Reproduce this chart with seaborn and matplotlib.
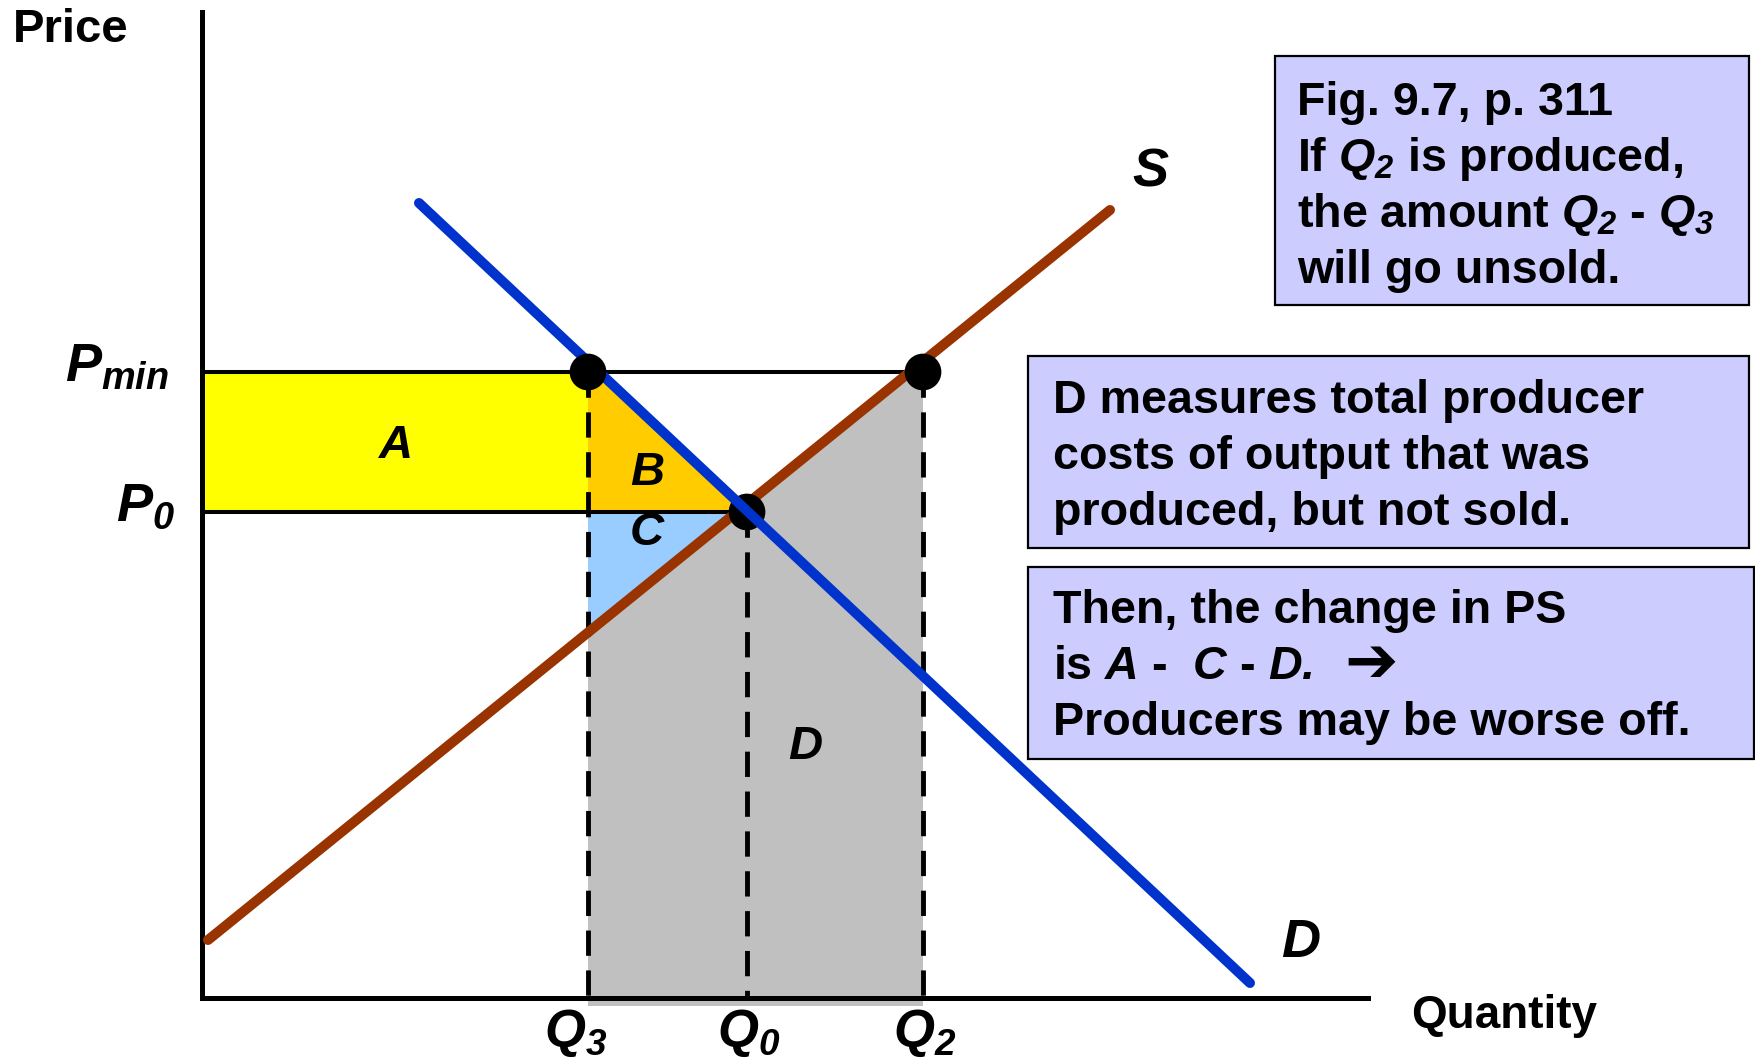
import matplotlib
matplotlib.use("Agg")
import matplotlib.pyplot as plt
from matplotlib.patches import Rectangle, Polygon
import numpy as np
import pandas as pd
import seaborn as sns

# values (origin of the price/quantity axes = 0)
QUANTITY_LABELS = ["$Q_3$", "$Q_0$", "$Q_2$"]
QUANTITIES = [3.86, 5.45, 7.21]
PRICE_LABELS = ["$P_{min}$", "$P_0$"]
PRICES = [6.26, 4.86]
SUPPLY_Q = [0.06, 9.08]
SUPPLY_P = [0.58, 7.88]
DEMAND_Q = [2.17, 10.48]
DEMAND_P = [7.95, 0.15]
AXIS_TOP = 9.86
AXIS_RIGHT = 11.66

AREA_LABELS = ["A", "B", "C", "D"]
BOX_LINES = [
    ["Fig. 9.7, p. 311", "If $Q_2$ is produced,", "the amount $Q_2$ - $Q_3$", "will go unsold."],
    ["D measures total producer", "costs of output that was", "produced, but not sold."],
    ["Then, the change in PS", "is $A$ -  $C$ - $D.$", "Producers may be worse off."],
]

W, H = 1756, 1063

sns.set_theme(style="white")
plt.rcParams["font.family"] = ["Liberation Sans", "DejaVu Sans"]
plt.rcParams["font.weight"] = "bold"
plt.rcParams["text.color"] = "black"
plt.rcParams["mathtext.fontset"] = "custom"
for k in ["rm", "it", "bf", "sf"]:
    plt.rcParams[f"mathtext.{k}"] = "Liberation Sans:style=italic:weight=bold"


def supply(q):
    return np.interp(q, SUPPLY_Q, SUPPLY_P)


def supply_inv(p):
    return np.interp(p, SUPPLY_P, SUPPLY_Q)


def demand_inv(p):
    return np.interp(p, DEMAND_P[::-1], DEMAND_Q[::-1])


def fx(px):
    return px / W


def fy(py):
    return 1 - py / H


fig = plt.figure(figsize=(W / 100, H / 100), dpi=100)
ax = fig.add_axes([0, 0, 1, 1])
ax.set_xlim(-2.02, 15.54)
ax.set_ylim(-0.65, 9.98)
ax.set_xticks([])
ax.set_yticks([])
for side in ["top", "right"]:
    ax.spines[side].set_visible(False)
ax.spines["left"].set_position(("data", 0))
ax.spines["bottom"].set_position(("data", 0))
ax.spines["left"].set_bounds(0, AXIS_TOP)
ax.spines["bottom"].set_bounds(0, AXIS_RIGHT)
for side in ["left", "bottom"]:
    ax.spines[side].set_color("black")
    ax.spines[side].set_linewidth(3.6)
    ax.spines[side].set_zorder(2.5)

q3, q0, q2 = QUANTITIES
pmin, p0 = PRICES

# shaded areas
ax.add_patch(Rectangle((0, p0), q3, pmin - p0, facecolor="#FFFF00", edgecolor="none", zorder=1))
ax.add_patch(Polygon([(q3, pmin), (demand_inv(pmin), pmin), (demand_inv(p0), p0), (q3, p0)],
                     facecolor="#FFCC00", edgecolor="none", zorder=1))
ax.add_patch(Polygon([(q3, p0), (supply_inv(p0), p0), (q3, supply(q3))],
                     facecolor="#99CCFF", edgecolor="none", zorder=1))
ax.add_patch(Polygon([(q3, supply(q3)), (q2, supply(q2)), (q2, -0.08), (q3, -0.08)],
                     facecolor="#C0C0C0", edgecolor="none", zorder=1))

# price lines and dashed quantity lines
ax.plot([0, q2], [pmin, pmin], color="black", lw=2.9, zorder=2)
ax.plot([0, q0], [p0, p0], color="black", lw=2.9, zorder=2)
for q, p in [(q3, pmin), (q0, p0), (q2, pmin)]:
    ax.plot([q, q], [p, 0], color="black", lw=3.5, ls=(0, (5.2, 3.0)), zorder=2)

# supply and demand
sns.lineplot(x=SUPPLY_Q, y=SUPPLY_P, color="#993300", lw=7.2, ax=ax, zorder=3)
sns.scatterplot(x=[q0], y=[p0], s=700, color="black", edgecolor="none", ax=ax, zorder=3.5)
sns.lineplot(x=DEMAND_Q, y=DEMAND_P, color="#0033CC", lw=7.2, ax=ax, zorder=4)
sns.scatterplot(x=[q3, q2], y=[pmin, pmin], s=700, color="black", edgecolor="none", ax=ax, zorder=5)

# axis labels
fig.text(fx(13), fy(42), "Price", fontsize=34, fontweight="bold", ha="left", va="baseline")
fig.text(fx(1411), fy(1028), "Quantity", fontsize=33, fontweight="bold", ha="left", va="baseline")
for lab, q, dx in zip(QUANTITY_LABELS, QUANTITIES, [-0.12, 0.02, 0.02]):
    ax.text(q + dx, -0.49, lab, fontsize=38, ha="center", va="baseline")
ax.text(-0.33, 6.16, PRICE_LABELS[0], fontsize=39, ha="right", va="baseline")
ax.text(-0.27, 4.77, PRICE_LABELS[1], fontsize=39, ha="right", va="baseline")

# area and curve labels
for lab, (x, y) in zip(AREA_LABELS, [(1.93, 5.52), (4.45, 5.25), (4.45, 4.65), (6.03, 2.51)]):
    ax.text(x, y, f"${lab}$", fontsize=34, ha="center", va="center", zorder=6)
ax.text(9.49, 8.27, "$S$", fontsize=39, ha="center", va="center")
ax.text(10.99, 0.55, "$D$", fontsize=39, ha="center", va="center")

# text boxes
boxes = [(1275, 56, 1749, 305), (1028, 356, 1749, 548), (1028, 567, 1754, 759)]
text_left = [1297, 1053, 1053]
baselines = [[115, 171, 227, 283], [413, 469, 525], [623, 679, 735]]
for (x0, y0, x1, y1), tl, bl, lines in zip(boxes, text_left, baselines, BOX_LINES):
    fig.patches.append(Rectangle((fx(x0), fy(y1)), fx(x1) - fx(x0), fy(y0) - fy(y1),
                                 transform=fig.transFigure, facecolor="#CCCCFF",
                                 edgecolor="black", lw=1.6, zorder=0))
    for y, line in zip(bl, lines):
        fig.text(fx(tl), fy(y), line, fontsize=33.6, fontweight="bold", ha="left", va="baseline")
fig.text(fx(1344), fy(664), "\u2794", fontsize=46, family="DejaVu Sans", fontweight="bold",
         ha="left", va="center")

fig.savefig("out.png", dpi=100, facecolor="white")
